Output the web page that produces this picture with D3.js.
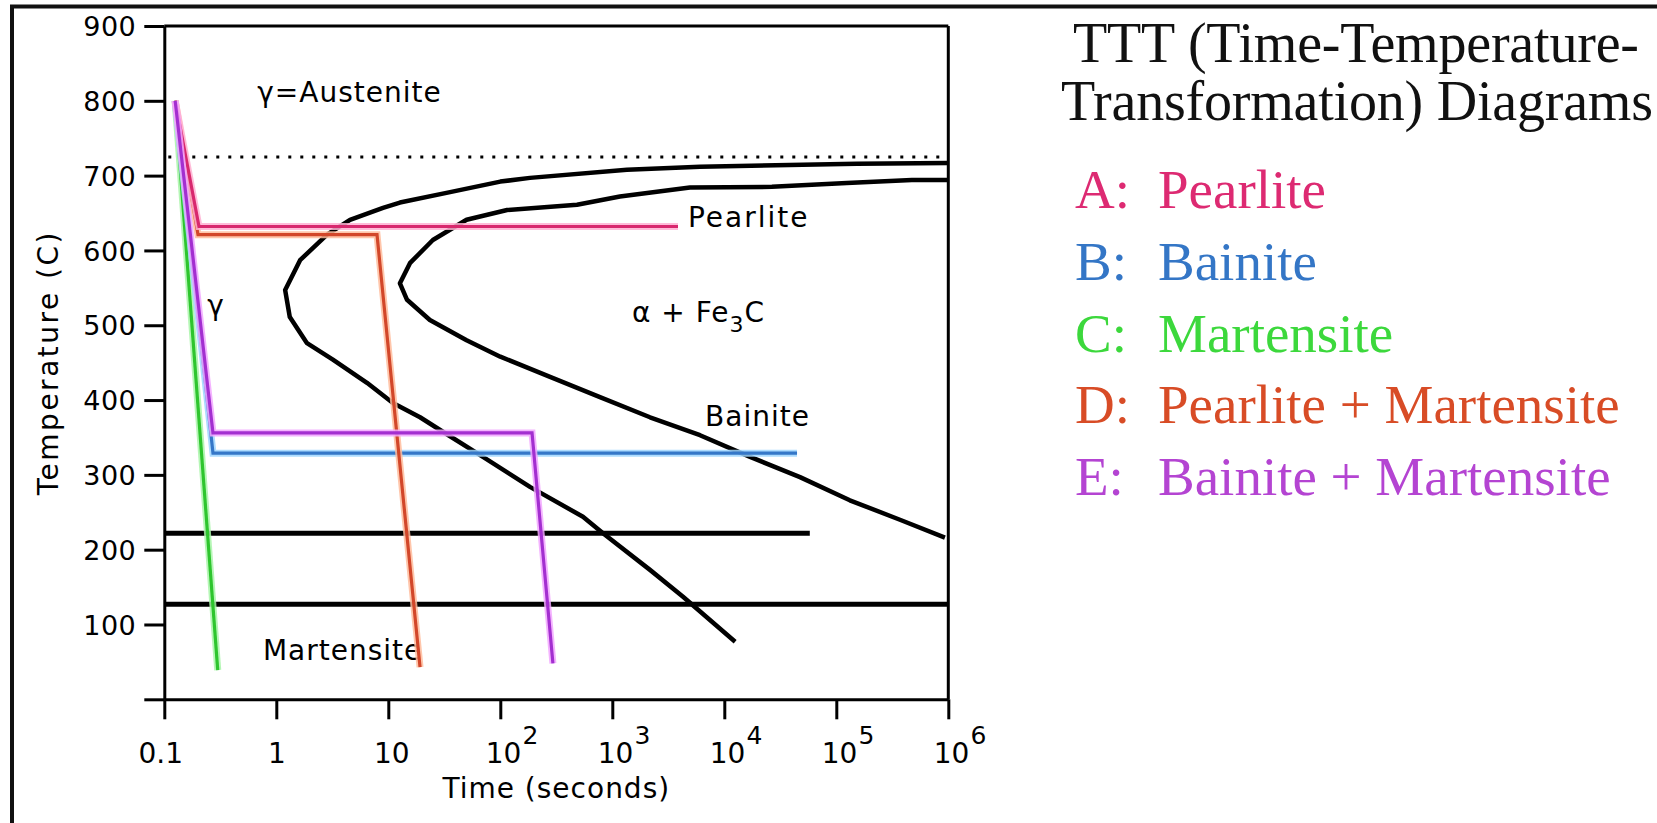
<!DOCTYPE html>
<html>
<head>
<meta charset="utf-8">
<script src="https://cdn.jsdelivr.net/npm/d3@7"></script>
<style>
  html, body { margin: 0; padding: 0; background: #fff; }
  svg { display: block; }
  .plotText { font-family: "DejaVu Sans", sans-serif; fill: #000; }
  .serif { font-family: "Liberation Serif", "Times New Roman", serif; }
</style>
</head>
<body>
<svg id="chart" width="1657" height="823"></svg>
<script>
// ---------- data ----------
const xTicks = [0.1, 1, 10, 100, 1000, 1e4, 1e5, 1e6];
const xTickBase = ["0.1", "1", "10", "10", "10", "10", "10", "10"];
const xTickExp  = ["", "", "", "2", "3", "4", "5", "6"];
const yTicks = [0, 100, 200, 300, 400, 500, 600, 700, 800, 900];

// eutectoid temperature (dotted) and martensite lines  [t0, t1, T]
const eutectoid = [0.1, 1e6, 725];
const msLine    = [0.1, 58000, 222];
const m90Line   = [0.1, 1e6, 127];

// transformation start curve  [time s, temp C]
const startCurve = [
  [1e6, 717], [153000, 716], [6070, 712], [1352, 708], [184, 697], [100, 692],
  [35.6, 678], [12.7, 664], [8.97, 657], [4.55, 641], [2.84, 621], [1.63, 587],
  [1.2, 547], [1.32, 511], [1.88, 476], [3.2, 454], [6.45, 423], [11, 396],
  [19.2, 377], [29, 360], [70, 324], [184, 284], [547, 244], [826, 222],
  [2170, 173], [4280, 137], [12500, 77]
];
// transformation finish curve
const finishCurve = [
  [1e6, 694], [473000, 694], [124000, 690], [26600, 685], [4930, 684], [1170, 672],
  [484, 661], [115, 654], [50, 641], [25, 614], [15.6, 583], [12.7, 556],
  [14.7, 534], [23.5, 507], [50, 480], [100, 458], [278, 431], [776, 404],
  [2170, 377], [6070, 353], [17000, 324], [47400, 297], [132000, 266],
  [370000, 240], [933000, 216]
];

// cooling paths
const pathC = [[0.125, 800], [0.30, 39]];
const pathB = [[0.125, 800], [0.272, 329], [44600, 329]];
const pathD = [[0.125, 800], [0.20, 621], [7.93, 621], [19.2, 43]];
const pathA = [[0.125, 800], [0.204, 632], [3860, 632]];
const pathE = [[0.125, 800], [0.272, 356], [192, 356], [295, 48]];

const legendKeys  = ["A:", "B:", "C:", "D:", "E:"];
const legendNames = ["Pearlite", "Bainite", "Martensite", "Pearlite + Martensite", "Bainite + Martensite"];
const titleLines  = ["TTT (Time-Temperature-", "Transformation) Diagrams"];

// region labels [text, time, temp]
const regionLabels = [
  ["γ=Austenite", 0.676, 798],
  ["γ", 0.2415, 514],
  ["Pearlite", 4740, 631],
  ["Bainite", 6730, 365],
  ["Martensite", 0.76, 52.5]
];
const phaseLabel = { pre: "α + Fe", sub: "3", post: "C", t: 1500, T: 504 };

// ---------- drawing ----------
const svg = d3.select("#chart");
svg.append("rect").attr("width", 1657).attr("height", 823).attr("fill", "#fff");

// outer frame (left and top only)
svg.append("line").attr("x1", 12).attr("x2", 12).attr("y1", 5).attr("y2", 823)
  .attr("stroke", "#111").attr("stroke-width", 4);
svg.append("line").attr("x1", 10).attr("x2", 1657).attr("y1", 6.5).attr("y2", 6.5)
  .attr("stroke", "#111").attr("stroke-width", 4);

const x = d3.scaleLog().domain([0.1, 1e6]).range([164.3, 948.3]);
const y = d3.scaleLinear().domain([0, 900]).range([699.3, 26]);

const g = svg.append("g");

// plot frame top & right
g.append("line").attr("x1", x(0.1)).attr("x2", x(1e6)).attr("y1", y(900)).attr("y2", y(900))
  .attr("stroke", "#000").attr("stroke-width", 3);
g.append("line").attr("x1", x(1e6)).attr("x2", x(1e6)).attr("y1", y(900)).attr("y2", y(0))
  .attr("stroke", "#000").attr("stroke-width", 3);

// dotted eutectoid line
g.append("line").attr("x1", x(eutectoid[0]) + 4).attr("x2", x(eutectoid[1]))
  .attr("y1", y(eutectoid[2])).attr("y2", y(eutectoid[2]))
  .attr("stroke", "#000").attr("stroke-width", 3).attr("stroke-dasharray", "3,9");

// Y axis
const yAxis = d3.axisLeft(y).tickValues(yTicks).tickSize(20).tickSizeOuter(0)
  .tickPadding(8).tickFormat(d => d === 0 ? "" : d);
const gy = g.append("g").attr("transform", `translate(${x(0.1)},0)`).call(yAxis);
gy.selectAll("path.domain").attr("stroke", "#000").attr("stroke-width", 3);
gy.selectAll(".tick line").attr("stroke", "#000").attr("stroke-width", 3);
gy.selectAll(".tick text").attr("class", "plotText").style("font-size", "27px")
  .style("letter-spacing", "0.5px").attr("fill", "#000").attr("dy", "0.36em");

// X axis
const xAxis = d3.axisBottom(x).tickValues(xTicks).tickSize(20).tickSizeOuter(0).tickFormat("");
const gx = g.append("g").attr("transform", `translate(0,${y(0)})`).call(xAxis);
gx.selectAll("path.domain").attr("stroke", "#000").attr("stroke-width", 3);
gx.selectAll(".tick line").attr("stroke", "#000").attr("stroke-width", 3);
gx.selectAll(".tick").each(function(d, i) {
  const t = d3.select(this).append("text").attr("class", "plotText")
    .style("font-size", "28px").attr("fill", "#000").attr("y", 64);
  if (xTickExp[i]) {
    t.attr("text-anchor", "start").attr("x", -15);
    t.append("tspan").text(xTickBase[i]);
    t.append("tspan").text(xTickExp[i]).style("font-size", "25px").attr("dy", -19).attr("dx", 1);
  } else {
    t.attr("text-anchor", "middle").attr("x", i === 0 ? -4 : (i === 2 ? 3 : 0)).text(xTickBase[i]);
  }
});

// axis titles
g.append("text").attr("class", "plotText").style("font-size", "28px")
  .attr("text-anchor", "middle").attr("x", (x(0.1) + x(1e6)) / 2).attr("y", 798)
  .style("letter-spacing", "1px").text("Time (seconds)");
g.append("text").attr("class", "plotText").style("font-size", "28px")
  .attr("text-anchor", "middle").style("letter-spacing", "2.5px")
  .attr("transform", `translate(58,${(y(0) + y(900)) / 2}) rotate(-90)`)
  .text("Temperature (C)");

// horizontal martensite lines
[msLine, m90Line].forEach(l => {
  g.append("line").attr("x1", x(l[0])).attr("x2", x(l[1])).attr("y1", y(l[2])).attr("y2", y(l[2]))
    .attr("stroke", "#000").attr("stroke-width", 5);
});

// C-curves
const line = d3.line().x(d => x(d[0])).y(d => y(d[1]));
[startCurve, finishCurve].forEach(c => {
  g.append("path").attr("d", line(c)).attr("fill", "none").attr("stroke", "#000")
    .attr("stroke-width", 4.5).attr("stroke-linejoin", "round");
});

// region labels
regionLabels.forEach(r => {
  g.append("text").attr("class", "plotText").style("font-size", "28px")
    .style("letter-spacing", r[0] === "Pearlite" ? "2px" : "1px")
    .attr("x", x(r[1])).attr("y", y(r[2])).text(r[0]);
});
const pl = g.append("text").attr("class", "plotText").style("font-size", "28px")
  .style("letter-spacing", "1px").attr("x", x(phaseLabel.t)).attr("y", y(phaseLabel.T));
pl.append("tspan").text(phaseLabel.pre);
pl.append("tspan").text(phaseLabel.sub).style("font-size", "22px").attr("dy", 10);
pl.append("tspan").text(phaseLabel.post).attr("dy", -10);

// cooling paths
const paths = [
  { d: pathC, core: "#2ec52e", halo: "#a8f5a8" },
  { d: pathB, core: "#3577c8", halo: "#9fd6ff" },
  { d: pathD, core: "#d2472a", halo: "#ffbc9c" },
  { d: pathA, core: "#d8286e", halo: "#ffb0d2" },
  { d: pathE, core: "#a32fd0", halo: "#f2a6ff" }
];
paths.forEach(p => {
  g.append("path").attr("d", line(p.d)).attr("fill", "none").attr("stroke", p.halo)
    .attr("stroke-width", 7).attr("stroke-linejoin", "miter").attr("opacity", 0.85);
  g.append("path").attr("d", line(p.d)).attr("fill", "none").attr("stroke", p.core)
    .attr("stroke-width", 3.2).attr("stroke-linejoin", "miter");
});

// title
titleLines.forEach((s, i) => {
  svg.append("text").attr("class", "serif").style("font-size", "56px").attr("fill", "#111")
    .attr("x", i === 0 ? 1073 : 1061).attr("y", 62 + i * 58)
    .attr("textLength", i === 0 ? 566 : 592).attr("lengthAdjust", "spacing").text(s);
});

// legend
const legendColors = ["#dd2a72", "#3476c6", "#3cd83c", "#d84c26", "#b444d2"];
legendKeys.forEach((k, i) => {
  const yy = 208 + i * 71.8;
  svg.append("text").attr("class", "serif").style("font-size", "55px")
    .attr("fill", legendColors[i]).attr("x", 1075).attr("y", yy).text(k);
  svg.append("text").attr("class", "serif").style("font-size", "55px")
    .attr("fill", legendColors[i]).attr("x", 1158).attr("y", yy).text(legendNames[i]);
});
</script>
</body>
</html>
